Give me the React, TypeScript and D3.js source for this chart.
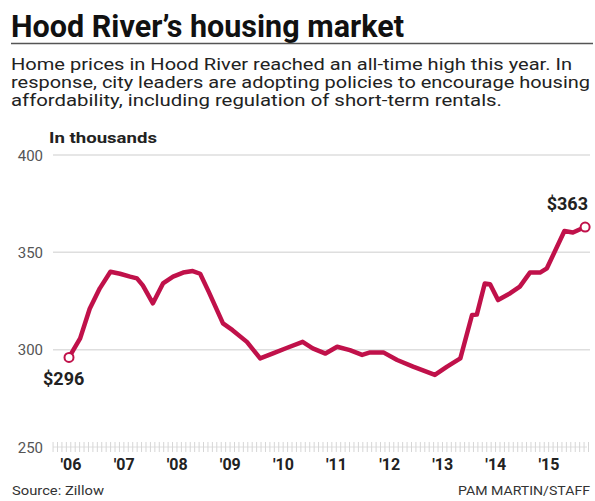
import React from "react";
import * as d3 from "d3";

const years: number[] = [
  2006.0, 2006.21, 2006.39, 2006.58, 2006.78, 2006.96, 2007.15, 2007.28, 2007.39, 2007.58,
  2007.77, 2007.96, 2008.15, 2008.33, 2008.47, 2008.63, 2008.9, 2009.08, 2009.35, 2009.6,
  2009.83, 2010.11, 2010.4, 2010.59, 2010.83, 2011.05, 2011.29, 2011.52, 2011.67, 2011.92,
  2012.18, 2012.48, 2012.89, 2013.12, 2013.37, 2013.59, 2013.68, 2013.83, 2013.93, 2014.08,
  2014.31, 2014.49, 2014.68, 2014.87, 2015.0, 2015.33, 2015.49, 2015.72,
];
const prices: number[] = [
  296, 305.8, 321, 331.5, 340, 339, 337.5, 336.6, 333, 323.8,
  334, 337.5, 339.6, 340.4, 339, 329.8, 313.5, 310, 304, 295.5,
  298, 301, 304, 300.7, 298, 301.5, 299.8, 297.3, 298.6, 298.6,
  294.7, 291.3, 287, 291.3, 295.5, 317.8, 318, 334, 333.6, 325.5,
  329, 332.4, 339.6, 339.6, 341.8, 361, 360.2, 363,
];
const yTicks: number[] = [250, 300, 350, 400];
const xTickYears: number[] = [2006, 2007, 2008, 2009, 2010, 2011, 2012, 2013, 2014, 2015];
const xTickLabels: string[] = ["'06", "'07", "'08", "'09", "'10", "'11", "'12", "'13", "'14", "'15"];
const subtitleLines: string[] = [
  "Home prices in Hood River reached an all-time high this year. In",
  "response, city leaders are adopting policies to encourage housing",
  "affordability, including regulation of short-term rentals.",
];
const subtitleWidths = [561, 579, 491];

const RED = "#c0114a";
const FONT = "Roboto, 'Liberation Sans', sans-serif";

export default function App() {
  const x = d3.scaleLinear().domain([2006, 2016]).range([69, 600]);
  const y = d3.scaleLinear().domain([250, 400]).range([447, 155]);
  const pts = years.map((yr, i) => [yr, prices[i]] as [number, number]);
  const line = d3
    .line<[number, number]>()
    .x((d) => x(d[0]))
    .y((d) => y(d[1]))
    .curve(d3.curveLinear);
  const monthTicks = d3.range(2005.7, 2015.8, 1 / 12);
  const first = pts[0];
  const last = pts[pts.length - 1];

  return (
    <svg
      width={595}
      height={501}
      style={{ position: "absolute", left: 0, top: 0, background: "#fff" }}
      fontFamily={FONT}
    >
      <rect x={0} y={0} width={595} height={501} fill="#fff" />
      <text
        x={11}
        y={37}
        fontSize={31}
        fontWeight={700}
        fill="#111"
        textLength={393}
        lengthAdjust="spacingAndGlyphs"
      >
        Hood River’s housing market
      </text>
      <line x1={11} x2={593} y1={43.5} y2={43.5} stroke="#555" strokeWidth={1.5} />
      {subtitleLines.map((t, i) => (
        <text
          key={i}
          x={11}
          y={70 + i * 18}
          fontSize={16.5}
          fill="#222"
          textLength={subtitleWidths[i]}
          lengthAdjust="spacingAndGlyphs"
        >
          {t}
        </text>
      ))}
      <text
        x={49}
        y={143}
        fontSize={14}
        fontWeight={700}
        fill="#222"
        textLength={108}
        lengthAdjust="spacingAndGlyphs"
      >
        In thousands
      </text>

      {yTicks
        .filter((v) => v !== 250)
        .map((v) => (
          <line key={v} x1={53} x2={590} y1={y(v)} y2={y(v)} stroke="#dedede" strokeWidth={1.5} />
        ))}
      <line x1={53} x2={587} y1={y(250)} y2={y(250)} stroke="#e0e0e0" strokeWidth={1} />
      {monthTicks.map((m, i) => (
        <line
          key={i}
          x1={x(m)}
          x2={x(m)}
          y1={y(250) - 5}
          y2={y(250) + 5}
          stroke="#d6d6d6"
          strokeWidth={1}
        />
      ))}
      {yTicks.map((v) => (
        <text key={v} x={43} y={y(v) + 5.5} fontSize={15} fill="#555" textAnchor="end">
          {v}
        </text>
      ))}
      {xTickYears.map((yr, i) => (
        <text
          key={yr}
          x={x(yr) + 2}
          y={470}
          fontSize={16}
          fontWeight={700}
          fill="#222"
          textAnchor="middle"
        >
          {xTickLabels[i]}
        </text>
      ))}

      <path
        d={line(pts) || ""}
        fill="none"
        stroke={RED}
        strokeWidth={4.5}
        strokeLinejoin="round"
        strokeLinecap="round"
      />
      <circle cx={x(first[0])} cy={y(first[1])} r={4.5} fill="#fff" stroke={RED} strokeWidth={2} />
      <circle cx={x(last[0])} cy={y(last[1])} r={4.5} fill="#fff" stroke={RED} strokeWidth={2} />
      <text x={x(first[0]) - 26} y={385} fontSize={18} fontWeight={700} fill="#222">
        ${first[1]}
      </text>
      <text x={588} y={210} fontSize={18} fontWeight={700} fill="#222" textAnchor="end">
        ${last[1]}
      </text>

      <text x={12} y={495} fontSize={13} fill="#333" textLength={92} lengthAdjust="spacingAndGlyphs">
        Source: Zillow
      </text>
      <text
        x={590}
        y={495}
        fontSize={13}
        fill="#333"
        textAnchor="end"
        textLength={132}
        lengthAdjust="spacingAndGlyphs"
      >
        PAM MARTIN/STAFF
      </text>
    </svg>
  );
}
